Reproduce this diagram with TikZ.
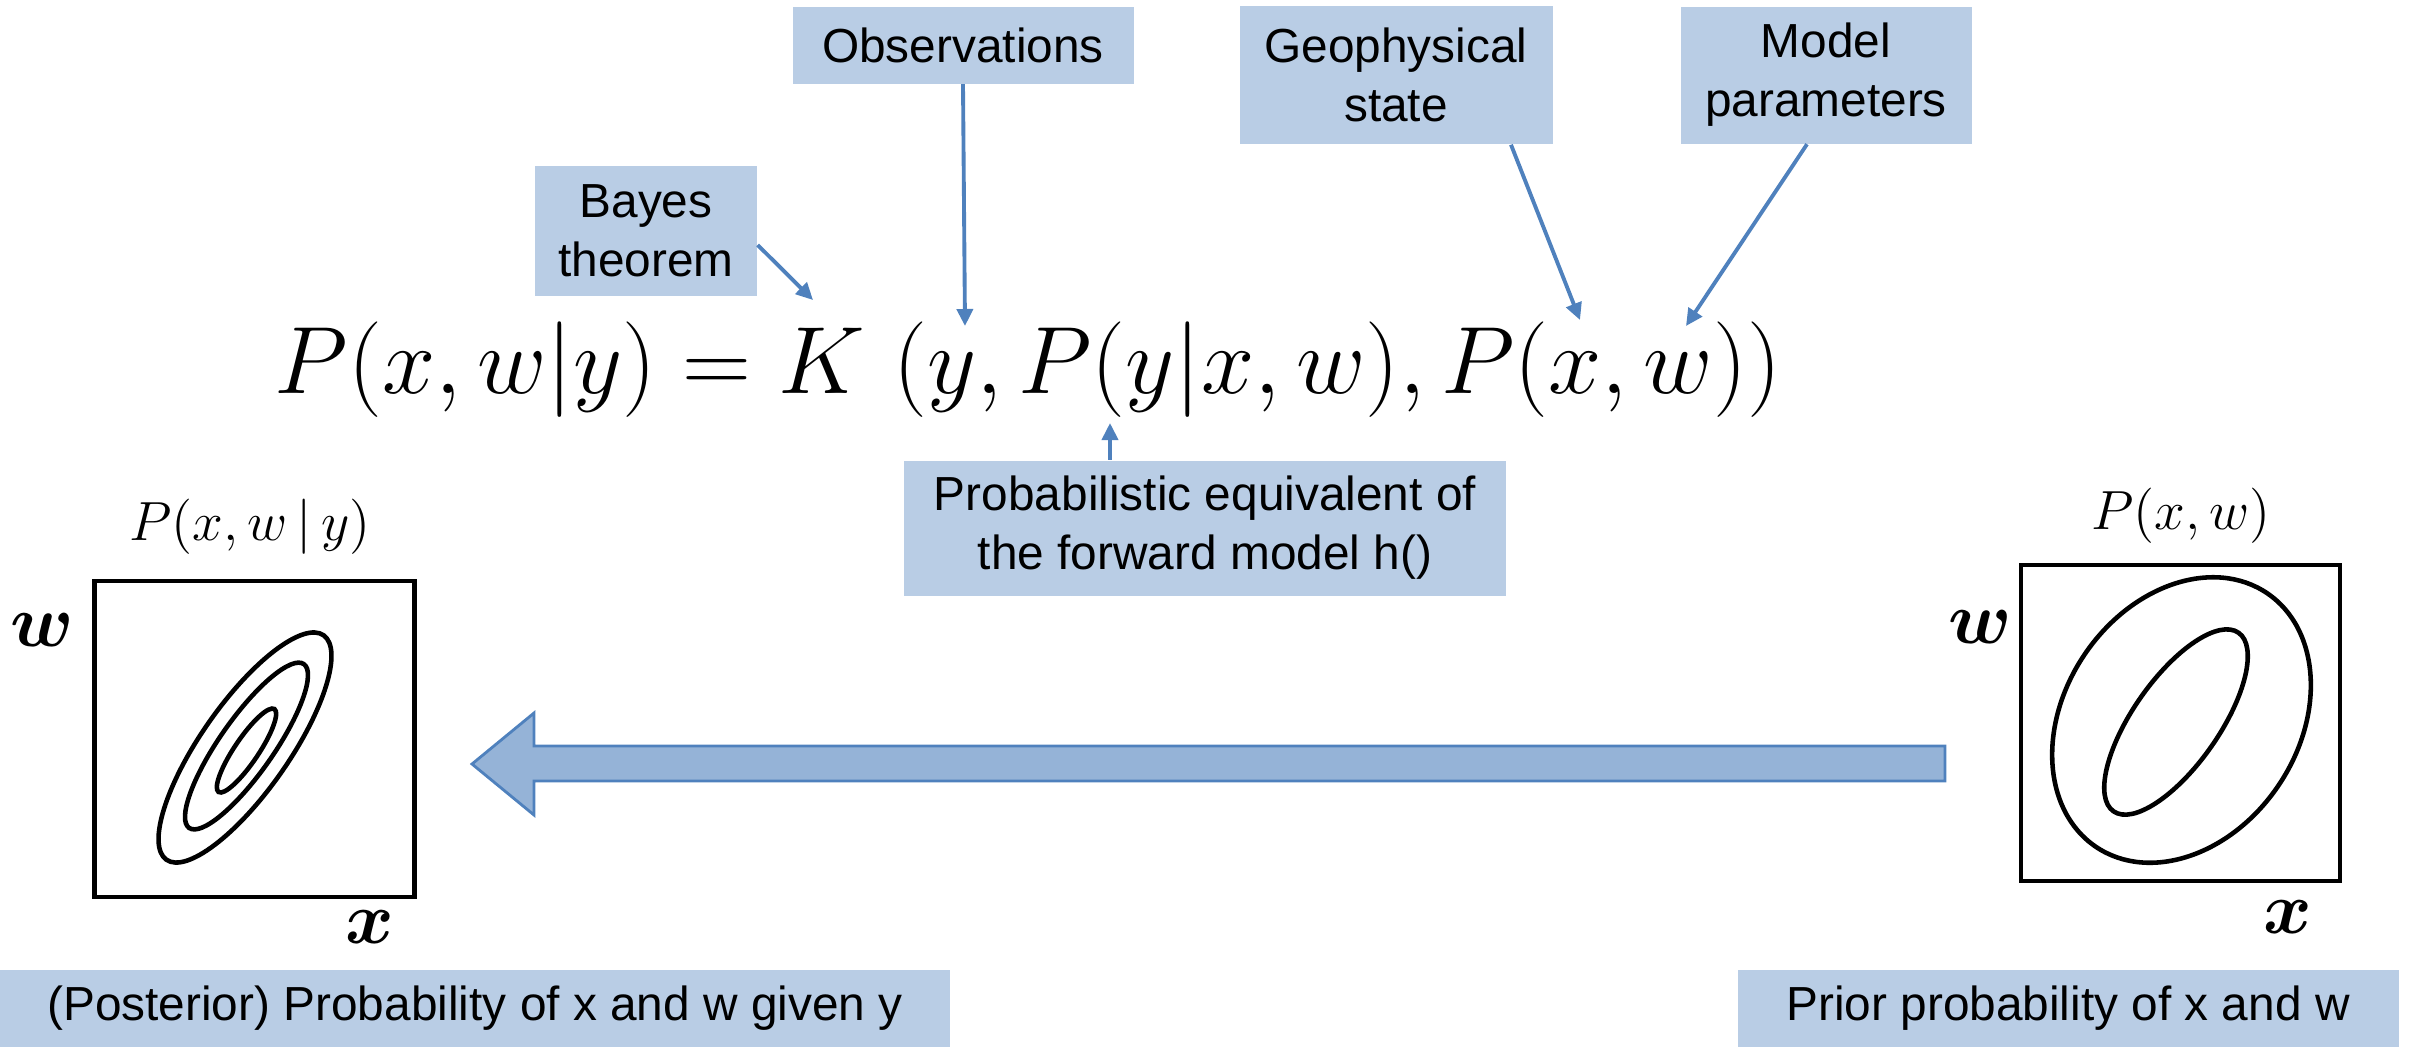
\RequirePackage{fix-cm}
\documentclass[tikz,border=0pt]{standalone}
\usepackage{amsmath}
\usepackage{fontspec}
\newfontfamily\labelfont{Liberation Sans}
\usetikzlibrary{arrows.meta, positioning}
\definecolor{notefill}{HTML}{B9CDE5}
\definecolor{pointer}{HTML}{4F81BD}
\definecolor{flowfill}{HTML}{95B3D7}
\newcommand{\eqsize}{\fontsize{27.2}{32}\selectfont}

\begin{document}
\begin{tikzpicture}[
  x=0.1mm, y=-0.1mm,
  note/.style={fill=notefill, align=center, inner sep=0pt, font=\labelfont\fontsize{13.6}{16.8}\selectfont},
  plotbox/.style={draw, line width=1.4pt, minimum width=32mm, minimum height=31.6mm, inner sep=0pt},
  contour/.style={line width=1.3pt},
  axlabel/.style={inner sep=0pt, font=\fontsize{21}{25}\selectfont},
  ptitle/.style={inner sep=0pt, font=\fontsize{15.7}{19}\selectfont},
  ptr/.style={-{Triangle[length=1.7mm, width=1.6mm]}, draw=pointer, line width=1.1pt},
  flow/.style={fill=flowfill, draw=pointer, line width=0.8pt},
]
\useasboundingbox (0,0) rectangle (2410,1046);

\node[note, minimum width=22.2mm, minimum height=13mm] (bayes) at (646,231) {Bayes\\theorem};
\node[note, minimum width=34.1mm, minimum height=7.7mm] (obs) at (963,45) {Observations};
\node[note, minimum width=31.3mm, minimum height=13.8mm] (geo) at (1396,75) {Geophysical\\state};
\node[note, minimum width=29.1mm, minimum height=13.7mm] (model) at (1826,75) {Model\\parameters};
\node[note, minimum width=60.2mm, minimum height=13.5mm] (prob) at (1205,528) {Probabilistic equivalent of\\the forward model h()};
\node[note, minimum width=95mm, minimum height=7.7mm] (post) at (475,1008) {(Posterior) Probability of x and w given y};
\node[note, minimum width=66.1mm, minimum height=7.7mm] (prior) at (2068,1008) {Prior probability of x and w};

\node[inner sep=0pt, anchor=base, font=\eqsize] (eq) at (1028,393) {$P(x,w|y) = K\ (y,P(y|x,w),P(x,w))$};
\coordinate (bayesend) at (813,300);
\coordinate (obsend) at (965,326);
\coordinate (geoend) at (1580,320);
\coordinate (modelend) at (1686,326);
\coordinate (probend) at (1110,423);

\draw[ptr] ([yshift=-1.4mm]bayes.east) -- (bayesend);
\draw[ptr] (obs.south) -- (obsend);
\draw[ptr] ([xshift=11.5mm]geo.south) -- (geoend);
\draw[ptr] ([xshift=-1.9mm]model.south) -- (modelend);
\draw[ptr] ([xshift=-9.5mm]prob.north) -- (probend);

\node[plotbox] (postplot) at (254.5,739) {};
\node[ptitle] (posttitle) at (250,527) {$P(x,w\,|\,y)$};
\node[axlabel] (postw) at (42,630) {$\boldsymbol{w}$};
\node[axlabel] (postx) at (370,927) {$\boldsymbol{x}$};
\draw[contour, rotate around={55:(245,747.5)}] (245,747.5) ellipse [x radius=13.7mm, y radius=4.4mm];
\draw[contour, rotate around={55:(246.5,746)}] (246.5,746) ellipse [x radius=10mm, y radius=2.7mm];
\draw[contour, rotate around={56:(246.5,750.5)}] (246.5,750.5) ellipse [x radius=5mm, y radius=1.2mm];

\node[plotbox, minimum width=31.9mm] (priorplot) at (2180.5,723) {};
\node[ptitle] (priortitle) at (2181,516) {$P(x,w)$};
\node[axlabel] (priorw) at (1980,627) {$\boldsymbol{w}$};
\node[axlabel] (priorx) at (2288,917) {$\boldsymbol{x}$};
\draw[contour, rotate around={56:(2181.5,720)}] (2181.5,720) ellipse [x radius=15.3mm, y radius=11.7mm];
\draw[contour, rotate around={55:(2176,722)}] (2176,722) ellipse [x radius=10.9mm, y radius=4.3mm];

\draw[flow] (1945,746) -- (534,746) -- (534,713) -- (472,764) -- (534,815) -- (534,781) -- (1945,781) -- cycle;
\end{tikzpicture}
\end{document}
